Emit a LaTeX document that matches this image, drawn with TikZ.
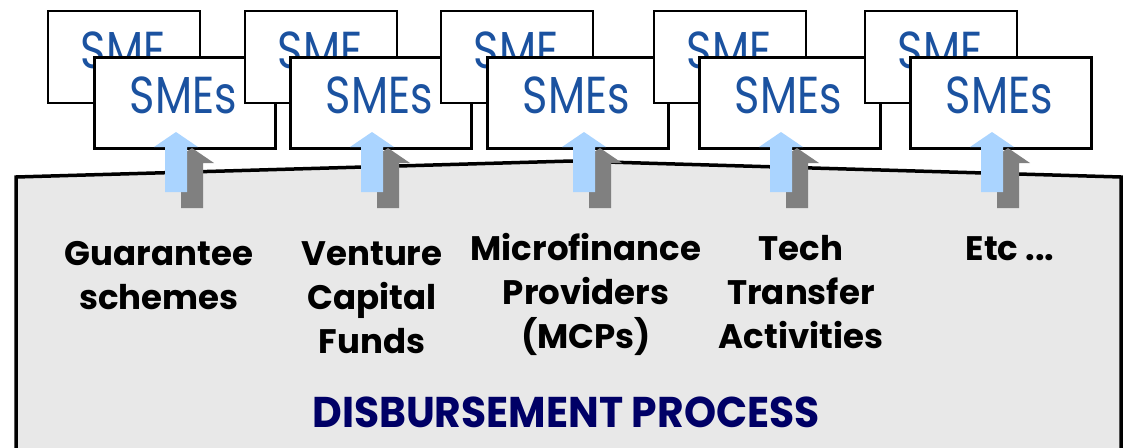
\documentclass[tikz,border=0pt]{standalone}
\usepackage{fontspec}
\setmainfont{Poppins}
\definecolor{smeblue}{RGB}{27,82,160}
\definecolor{navy}{RGB}{0,0,102}
\definecolor{procfill}{RGB}{232,232,232}
\definecolor{arrowblue}{RGB}{170,212,255}
\definecolor{arrowgray}{RGB}{128,128,128}
\newcommand\narrowtext[2]{\scalebox{#1}[1]{#2}}
\begin{document}
\begin{tikzpicture}[x=1pt,y=-1pt,
  backbox/.style={draw=black,line width=2.2pt,fill=white,anchor=north west,
    minimum width=152pt,minimum height=92pt,inner sep=0pt},
  frontbox/.style={draw=black,line width=2.5pt,fill=white,anchor=north west,
    minimum width=181pt,minimum height=91pt,inner sep=0pt},
  smetext/.style={text=smeblue,anchor=base,inner sep=0pt,
    font=\fontsize{52}{52}\selectfont},
  fundlabel/.style={anchor=base,align=center,inner sep=0pt,
    font=\fontsize{34}{44}\selectfont\bfseries},
  pics/uparrow/.style={code={
    \fill[#1] (0,0) -- (22,15) -- (11,15) -- (11,60) -- (-11,60)
      -- (-11,15) -- (-22,15) -- cycle;}}
]
\useasboundingbox (0,0) rectangle (1129,447);

% disbursement process outline with a ridged top
\draw[line width=3.5pt,fill=procfill] (16,480) -- (16,177) -- (572,161)
  -- (1121,177) -- (1121,480);

% stacked SME boxes
\foreach \i/\bx/\fx in {1/47/93,2/244/289,3/440/486,4/653/698,5/864/909}{
  \node[backbox] (back\i) at (\bx,10) {};
  \node[smetext] (backtxt\i) at (\bx+76,68) {\narrowtext{0.83}{SME}};
  \node[frontbox] (front\i) at (\fx,56) {};
  \node[smetext] (fronttxt\i) at (\fx+90.5,113) {\narrowtext{0.83}{SMEs}};
}

% funding arrows: grey shadow behind a light blue arrow
\foreach \ax in {176,372,584,781,992}{
  \pic at (\ax+16,148) {uparrow=arrowgray};
  \pic at (\ax,132) {uparrow=arrowblue};
}

% funding channels (anchored on the baseline of the last line)
\node[fundlabel] (guar) at (159,309) {Guarantee\\schemes};
\node[fundlabel] (vc) at (372,353) {Venture\\Capital\\Funds};
\node[fundlabel] (mcp) at (586,348) {Microfinance\\Providers\\(MCPs)};
\node[fundlabel] (tech) at (801,348) {Tech\\Transfer\\Activities};
\node[fundlabel] (etc) at (1010,260) {Etc ...};

\node[anchor=base,inner sep=0pt,text=navy,
  font=\fontsize{43}{43}\selectfont\bfseries] (proc) at (566,427)
  {\narrowtext{0.95}{DISBURSEMENT PROCESS}};
\end{tikzpicture}
\end{document}
